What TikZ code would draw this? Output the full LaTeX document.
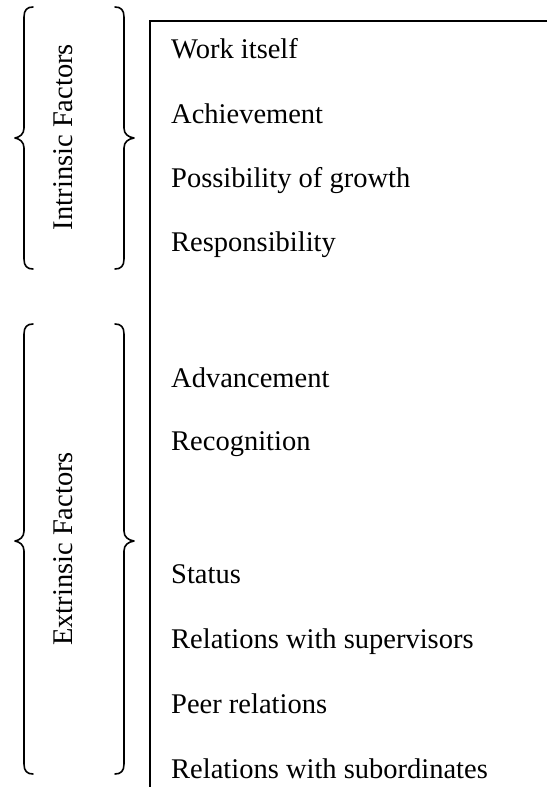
\documentclass[tikz,border=0pt]{standalone}
\usepackage{fontspec}
\setmainfont{Liberation Serif}
\begin{document}
\begin{tikzpicture}[x=1pt,y=-1pt,
  item/.style={anchor=base west,inner sep=0pt,font=\fontsize{28.5}{30}\selectfont},
  grouplabel/.style={anchor=base,rotate=90,inner sep=0pt,font=\fontsize{28.5}{30}\selectfont},
  bracepath/.style={line width=1.6pt,line cap=round,line join=round},
  frame/.style={line width=2pt}]
\useasboundingbox (0,0) rectangle (547,787);

% left brace: \lbrace{x of vertical}{top}{middle}{bottom}
\newcommand{\lbraceshape}[4]{%
  \draw[bracepath] (#1+9,#2) .. controls (#1+3,#2) and (#1,#2+3) .. (#1,#2+10)
    -- (#1,#3-10) .. controls (#1,#3-4) and (#1-4,#3-1) .. (#1-9,#3)
    .. controls (#1-4,#3+1) and (#1,#3+4) .. (#1,#3+10)
    -- (#1,#4-10) .. controls (#1,#4-3) and (#1+3,#4) .. (#1+9,#4);}
\newcommand{\rbraceshape}[4]{%
  \draw[bracepath] (#1-9,#2) .. controls (#1-3,#2) and (#1,#2+3) .. (#1,#2+10)
    -- (#1,#3-10) .. controls (#1,#3-4) and (#1+4,#3-1) .. (#1+10,#3)
    .. controls (#1+4,#3+1) and (#1,#3+4) .. (#1,#3+10)
    -- (#1,#4-10) .. controls (#1,#4-3) and (#1-3,#4) .. (#1-9,#4);}

% braces around the two groups
\lbraceshape{24}{7}{138}{269}
\rbraceshape{124}{7}{138}{269}
\lbraceshape{24}{324}{541}{774}
\rbraceshape{124}{324}{541}{774}

% group labels
\node[grouplabel] (intr) at (72,137) {Intrinsic Factors};
\node[grouplabel] (extr) at (72,549) {Extrinsic Factors};

% frame on the left and top of the list
\draw[frame] (547,21) -- (150,21) -- (150,787);

% list of factors
\node[item] (f1)  at (171,58)  {Work itself};
\node[item] (f2)  at (171,123) {Achievement};
\node[item] (f3)  at (171,187) {Possibility of growth};
\node[item] (f4)  at (171,251) {Responsibility};
\node[item] (f5)  at (171,387) {Advancement};
\node[item] (f6)  at (171,450) {Recognition};
\node[item] (f7)  at (171,583) {Status};
\node[item] (f8)  at (171,648) {Relations with supervisors};
\node[item] (f9)  at (171,713) {Peer relations};
\node[item] (f10) at (171,778) {Relations with subordinates};
\end{tikzpicture}
\end{document}
